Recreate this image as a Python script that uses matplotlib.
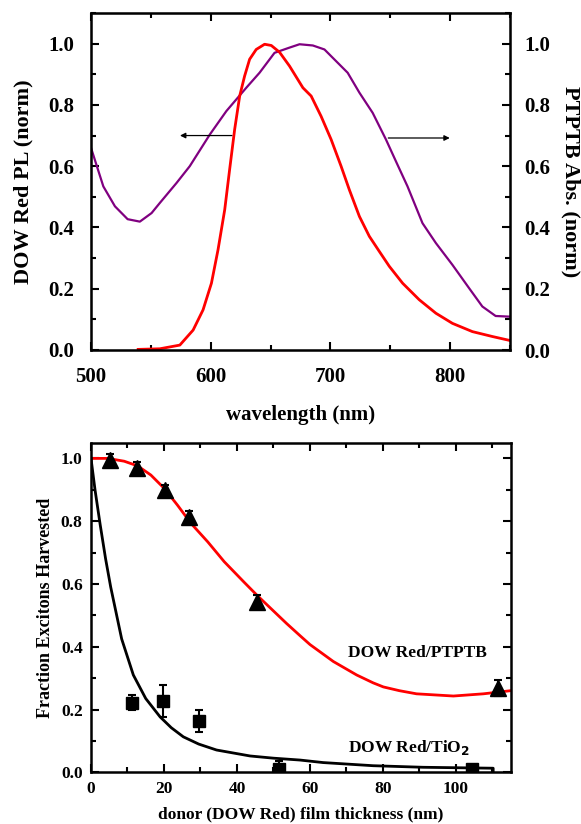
import matplotlib
matplotlib.use("Agg")
import matplotlib.pyplot as plt
from matplotlib.ticker import MultipleLocator, FormatStrFormatter

plt.rcParams['font.family'] = ['Liberation Serif', 'DejaVu Serif']
plt.rcParams['font.weight'] = 'bold'
plt.rcParams['mathtext.fontset'] = 'custom'
plt.rcParams['mathtext.rm'] = 'Liberation Serif:bold'

# ---- Top panel data ----
abs_wl = [500, 510.3, 520, 530.6, 540.8, 550.6, 557.5, 571.4, 582.5, 599.2, 613.1, 629.7, 640.8,
          653.3, 665.8, 674.2, 685.3, 695, 714.4, 724.2, 735.3, 746.4, 754.7, 764.4,
          776.9, 788.1, 801.9, 815.8, 826.9, 838, 849.2]
abs_val = [0.66, 0.534, 0.469, 0.427, 0.419, 0.447, 0.48, 0.545, 0.6, 0.703, 0.78, 0.856, 0.905,
           0.97, 0.987, 0.998, 0.994, 0.981, 0.905, 0.84, 0.774, 0.687, 0.616, 0.534,
           0.414, 0.349, 0.278, 0.202, 0.142, 0.111, 0.109]

pl_wl = [539.4, 557.5, 574.2, 585.3, 593.6, 600.6, 606.1, 611.7, 615.8, 620, 624.2, 628.3,
         632.5, 638, 645, 650.6, 657.5, 665.8, 677, 683.9, 692.2, 700.6, 708.9, 715.8,
         724.2, 732.5, 740.8, 749.2, 760.3, 774.2, 788.1, 801.9, 818.6, 835.3, 850]
pl_val = [0.002, 0.004, 0.016, 0.065, 0.131, 0.218, 0.327, 0.458, 0.589, 0.72, 0.829, 0.894,
          0.949, 0.981, 0.998, 0.994, 0.972, 0.927, 0.856, 0.829, 0.763, 0.687, 0.6, 0.523,
          0.436, 0.371, 0.322, 0.273, 0.218, 0.164, 0.12, 0.087, 0.06, 0.044, 0.031]

# ---- Bottom panel data ----
ptptb_x = [5.2, 12.5, 20.3, 26.8, 45.4, 111.4]
ptptb_y = [0.995, 0.968, 0.899, 0.814, 0.544, 0.268]
ptptb_err = [0.02, 0.02, 0.015, 0.02, 0.02, 0.025]

tio2_x = [11.1, 19.8, 29.6, 51.5, 104.3]
tio2_y = [0.222, 0.227, 0.164, 0.010, 0.012]
tio2_err = [0.024, 0.05, 0.035, 0.026, 0.006]

fit_red_x = [0, 4.6, 9.1, 12.8, 16.4, 20.1, 23.7, 27.4, 32, 36.5, 42, 45.4, 48.1, 53.6, 57.3,
             60, 66.4, 72.8, 77.3, 80.1, 84.5, 89.2, 99.3, 107.5, 115]
fit_red_y = [1.0, 1.0, 0.991, 0.976, 0.947, 0.904, 0.851, 0.793, 0.734, 0.671, 0.605, 0.565,
             0.535, 0.474, 0.435, 0.407, 0.353, 0.31, 0.285, 0.272, 0.26, 0.25, 0.243, 0.25, 0.26]

fit_blk_x = [0, 1.1, 2.5, 4.0, 5.4, 8.4, 11.6, 15.0, 18.9, 22.0, 25.3, 29.5, 34.4, 43.6, 50,
             57.3, 63.6, 77.3, 91, 110.2, 110.2]
fit_blk_y = [1.0, 0.9, 0.79, 0.68, 0.59, 0.425, 0.31, 0.235, 0.177, 0.142, 0.113, 0.09, 0.071,
             0.052, 0.045, 0.039, 0.031, 0.021, 0.016, 0.013, 0.0]

fig = plt.figure(figsize=(5.81, 8.24), dpi=100)

# ================= Top panel =================
ax1 = fig.add_axes([91/581, 1-350/824, 419/581, 337/824])
ax1.plot(abs_wl, abs_val, color='#800080', lw=1.6)
ax1.plot(pl_wl, pl_val, color='#ff0000', lw=2.0)
ax1.set_xlim(500, 850)
ax1.set_ylim(0, 1.1)
ax1.xaxis.set_major_locator(MultipleLocator(100))
ax1.xaxis.set_minor_locator(MultipleLocator(50))
ax1.yaxis.set_major_locator(MultipleLocator(0.2))
ax1.yaxis.set_minor_locator(MultipleLocator(0.1))
ax1.yaxis.set_major_formatter(FormatStrFormatter('%.1f'))
ax1.tick_params(which='both', direction='in', top=True, right=True, width=1.5)
ax1.tick_params(which='major', length=6, labelsize=15)
ax1.tick_params(which='minor', length=3.5)
ax1.tick_params(axis='x', which='major', pad=12)
ax1.tick_params(axis='y', which='major', pad=12)
for s in ax1.spines.values():
    s.set_linewidth(1.8)
ax1.set_xlabel('wavelength (nm)', fontsize=15, fontweight='bold', labelpad=13)
ax1.set_ylabel('DOW Red PL (norm)', fontsize=16, fontweight='bold', labelpad=11)

ax1r = ax1.twinx()
ax1r.set_ylim(0, 1.1)
ax1r.yaxis.set_major_locator(MultipleLocator(0.2))
ax1r.yaxis.set_minor_locator(MultipleLocator(0.1))
ax1r.yaxis.set_major_formatter(FormatStrFormatter('%.1f'))
ax1r.tick_params(which='both', direction='in', width=1.5)
ax1r.tick_params(which='major', length=6, labelsize=15, pad=10)
ax1r.tick_params(which='minor', length=3.5)
ax1r.set_ylabel('PTPTB Abs. (norm)', fontsize=16, fontweight='bold', rotation=270, labelpad=22)

ax1.annotate('', xy=(572, 0.70), xytext=(620, 0.70),
             arrowprops=dict(arrowstyle='-|>', color='black', lw=0.9, mutation_scale=8))
ax1.annotate('', xy=(802, 0.692), xytext=(746, 0.692),
             arrowprops=dict(arrowstyle='-|>', color='black', lw=0.9, mutation_scale=8))

# ================= Bottom panel =================
ax2 = fig.add_axes([91/581, 1-772.3/824, 419.7/581, 329.6/824])
ax2.plot(fit_red_x, fit_red_y, color='#ff0000', lw=2.0, zorder=2)
ax2.plot(fit_blk_x, fit_blk_y, color='black', lw=2.0, zorder=2)
ax2.errorbar(ptptb_x, ptptb_y, yerr=ptptb_err, fmt='^', color='black', ms=11,
             capsize=3, elinewidth=1.5, capthick=1.5, zorder=3)
ax2.errorbar(tio2_x, tio2_y, yerr=tio2_err, fmt='s', color='black', ms=8.5,
             capsize=3, elinewidth=1.5, capthick=1.5, zorder=3)
ax2.set_xlim(0, 115)
ax2.set_ylim(0, 1.05)
ax2.xaxis.set_major_locator(MultipleLocator(20))
ax2.xaxis.set_minor_locator(MultipleLocator(10))
ax2.yaxis.set_major_locator(MultipleLocator(0.2))
ax2.yaxis.set_minor_locator(MultipleLocator(0.1))
ax2.yaxis.set_major_formatter(FormatStrFormatter('%.1f'))
ax2.tick_params(which='both', direction='in', top=True, right=True, width=1.5)
ax2.tick_params(which='major', length=6, labelsize=12.5, pad=6)
ax2.tick_params(which='minor', length=3.5)
for s in ax2.spines.values():
    s.set_linewidth(1.8)
ax2.set_xlabel('donor (DOW Red) film thickness (nm)', fontsize=12.5, fontweight='bold', labelpad=7)
ax2.set_ylabel('Fraction Excitons Harvested', fontsize=13, fontweight='bold', labelpad=5)

ax2.text(70.4, 0.381, 'DOW Red/PTPTB', fontsize=12.5, fontweight='bold', va='center', ha='left')
ax2.text(70.4, 0.08, r'DOW Red/TiO$_\mathbf{2}$', fontsize=12.5, fontweight='bold', va='center', ha='left')

fig.savefig('out.png', dpi=100)
